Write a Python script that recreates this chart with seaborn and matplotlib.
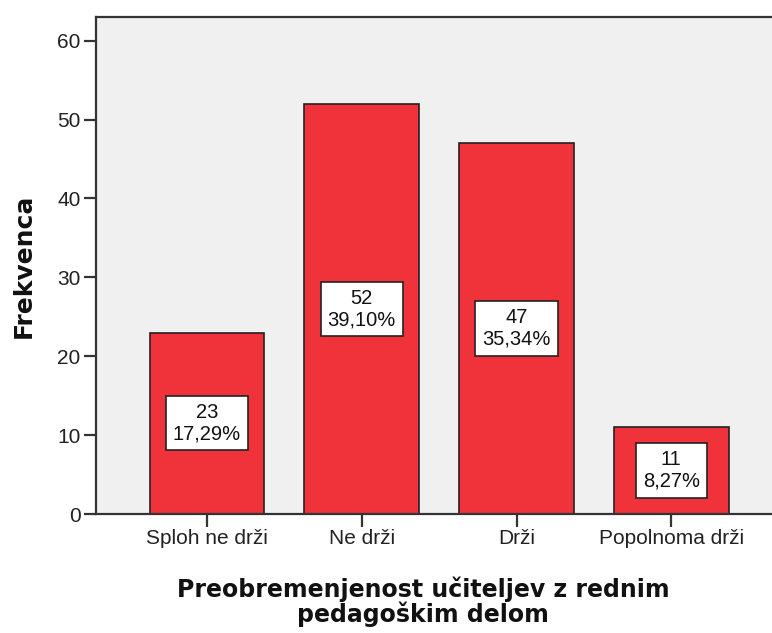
import matplotlib
matplotlib.use("Agg")
import matplotlib.pyplot as plt
import seaborn as sns
import pandas as pd

categories = ["Sploh ne drži", "Ne drži", "Drži", "Popolnoma drži"]
counts = [23, 52, 47, 11]
percents = ["17,29%", "39,10%", "35,34%", "8,27%"]
yticks = [0, 10, 20, 30, 40, 50, 60]

sns.set_theme(style="white")
plt.rcParams['font.family'] = ['Liberation Sans', 'DejaVu Sans']

df = pd.DataFrame({"cat": categories, "n": counts})

W, H = 772, 633
fig = plt.figure(figsize=(W / 100, H / 100), dpi=100)
fig.patch.set_facecolor("white")
ax = fig.add_axes([96 / W, 1 - 514 / H, (W - 96) / W, (514 - 17) / H])
ax.set_facecolor("#F0F0F0")

sns.barplot(data=df, x="cat", y="n", ax=ax, color="#F0323A", width=0.74,
            edgecolor="#222222", linewidth=1.2, saturation=1)

ax.set_xlim(-0.716, 3.65)
ax.set_ylim(0, 63.0)
ax.set_yticks(yticks)
ax.set_yticklabels([str(t) for t in yticks])

for i, (c, p) in enumerate(zip(counts, percents)):
    ax.text(i, c / 2, f"{c}\n{p}", ha="center", va="center", fontsize=14.5,
            linespacing=1.15, color="#111111",
            bbox=dict(boxstyle="square,pad=0.35", facecolor="white",
                      edgecolor="#222222", linewidth=1.2))

for s in ["left", "top", "bottom"]:
    ax.spines[s].set_visible(True)
    ax.spines[s].set_color("#333333")
    ax.spines[s].set_linewidth(1.6)
ax.spines["right"].set_visible(False)

ax.tick_params(axis="both", which="both", direction="out", length=9, width=1.6,
               color="#333333", labelsize=15, labelcolor="#222222", pad=2,
               left=True, bottom=True)

ax.set_ylabel("Frekvenca", fontsize=18, fontweight="bold",
              family=["DejaVu Sans"], color="#111111")
ax.yaxis.set_label_coords((36 - 96) / (W - 96), 0.5)
ax.set_xlabel("Preobremenjenost učiteljev z rednim\npedagoškim delom",
              fontsize=17, fontweight="bold", family=["DejaVu Sans"],
              color="#111111", linespacing=0.95)
ax.xaxis.set_label_coords((423 - 96) / (W - 96), -0.177)
ax.xaxis.label.set_verticalalignment("center")

fig.savefig("out.png", dpi=100, facecolor="white")
